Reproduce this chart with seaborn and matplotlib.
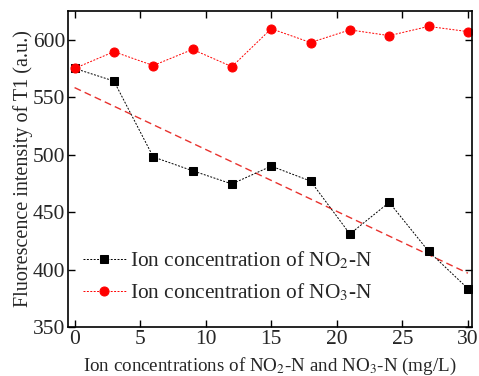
import numpy as np
import pandas as pd
import matplotlib
matplotlib.use("Agg")
import matplotlib.pyplot as plt
import seaborn as sns

conc = [0, 3, 6, 9, 12, 15, 18, 21, 24, 27, 30]
no2 = [575, 564, 498, 486, 474.5, 490, 477, 431, 458.5, 416, 383.5]
no3 = [575, 589.5, 577.5, 591.5, 576.5, 609.5, 597.5, 608.5, 603.5, 611.5, 607]
xticks = [0, 5, 10, 15, 20, 25, 30]
yticks = [350, 400, 450, 500, 550, 600]
label_no2 = r"Ion concentration of NO$_{\mathrm{2}}$-N"
label_no3 = r"Ion concentration of NO$_{\mathrm{3}}$-N"

sns.set_style("ticks")
plt.rcParams['font.family'] = ['Liberation Serif', 'DejaVu Serif']
plt.rcParams['mathtext.fontset'] = 'stix'

df = pd.DataFrame({"conc": conc, "no2": no2, "no3": no3})

fig = plt.figure(figsize=(4.79, 3.76), dpi=100)
ax = fig.add_axes([0.142, 0.130, 0.843, 0.841])

sns.regplot(data=df, x="conc", y="no2", ax=ax, scatter=False, ci=None,
            truncate=True,
            line_kws=dict(color="#e8322e", linestyle=(0, (5, 3)), linewidth=1.0))
sns.lineplot(data=df, x="conc", y="no2", ax=ax, color="black", linestyle=(0, (2, 1.5)),
             linewidth=0.7, marker="s", markersize=5.2, markeredgecolor="black",
             label=label_no2)
sns.lineplot(data=df, x="conc", y="no3", ax=ax, color="#ff0000", linestyle=(0, (2, 1.5)),
             linewidth=0.7, marker="o", markersize=6.5, markeredgecolor="#ff0000",
             label=label_no3)

ax.set_xlim(-0.5, 30.3)
ax.set_ylim(350, 625)
ax.set_xticks(xticks)
ax.set_yticks(yticks)
ax.tick_params(direction="in", top=True, right=True, length=5, width=1,
               labelsize=15.5, pad=2, color="black")
for s in ax.spines.values():
    s.set_linewidth(1.2)
    s.set_color("black")

ax.set_xlabel(r"Ion concentrations of NO$_{\mathrm{2}}$-N and NO$_{\mathrm{3}}$-N (mg/L)",
              fontsize=13.7, labelpad=5)
ax.set_ylabel("Fluorescence intensity of T1 (a.u.)", fontsize=14.5, labelpad=0)

leg = ax.legend(loc="center left", bbox_to_anchor=(0.0, 0.16), frameon=False,
                fontsize=15.4, handlelength=2.0, handletextpad=0.2, labelspacing=0.45,
                borderaxespad=0.3)

fig.savefig("out.png", dpi=100)
